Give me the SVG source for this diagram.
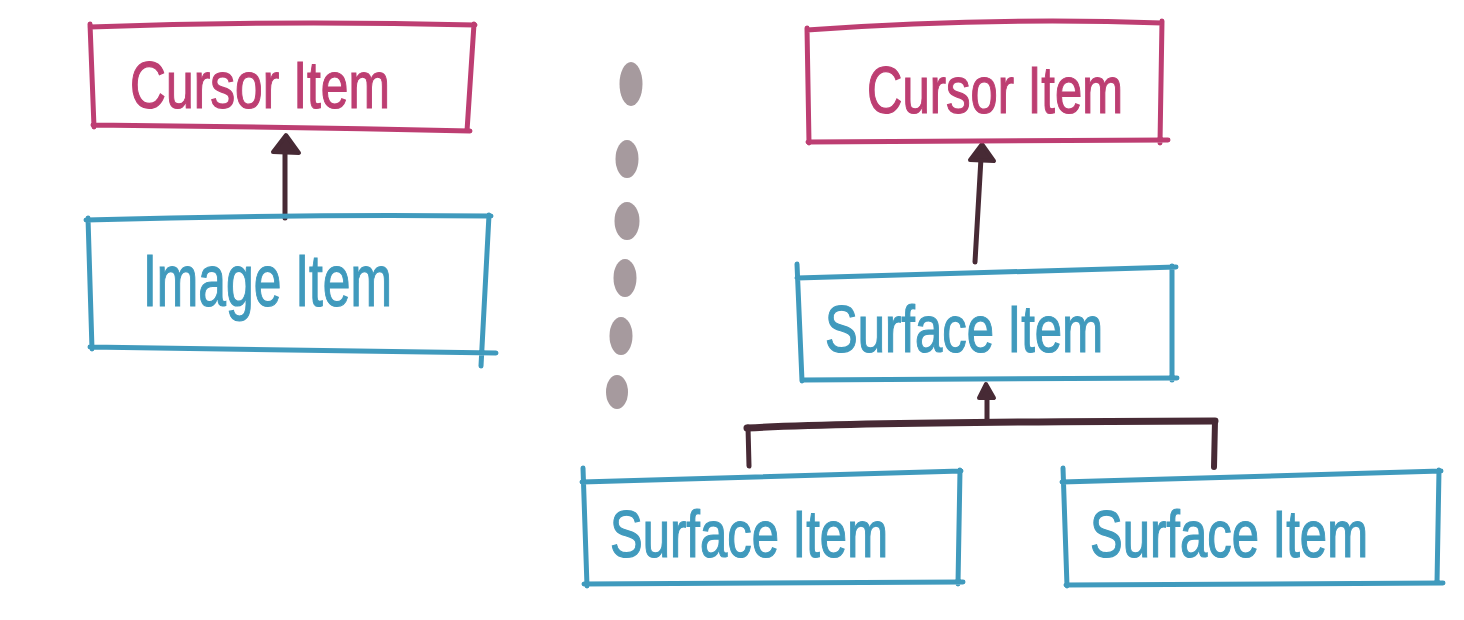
<svg xmlns="http://www.w3.org/2000/svg" width="1464" height="620" viewBox="0 0 1464 620">
<style>
.pink{fill:none;stroke:#bd3e72;stroke-width:5;stroke-linecap:round;stroke-linejoin:round}
.blue{fill:none;stroke:#409abd;stroke-width:5;stroke-linecap:round;stroke-linejoin:round}
.conn{fill:none;stroke:#472a35;stroke-width:5;stroke-linecap:round;stroke-linejoin:round}
.head{fill:#472a35;stroke:#472a35;stroke-width:4;stroke-linejoin:round}
.dot{fill:#a69a9e}
.tp{fill:#bd3e72;font-family:"Liberation Sans","DejaVu Sans",sans-serif;font-size:66px;stroke:#bd3e72;stroke-width:1.2}
.tb{fill:#409abd;font-family:"Liberation Sans","DejaVu Sans",sans-serif;font-size:66px;stroke:#409abd;stroke-width:1.2}
</style>
<rect width="1464" height="620" fill="#ffffff"/>
<g id="dots">
<ellipse class="dot" cx="631" cy="84" rx="11.5" ry="22"/>
<ellipse class="dot" cx="627" cy="159" rx="11.5" ry="19"/>
<ellipse class="dot" cx="627" cy="221" rx="12.5" ry="19"/>
<ellipse class="dot" cx="625" cy="278" rx="11.5" ry="19"/>
<ellipse class="dot" cx="621" cy="336" rx="11.5" ry="19"/>
<ellipse class="dot" cx="617" cy="392" rx="11" ry="17"/>
</g>
<g id="connectors">
<path class="conn" d="M285 218 L285 150"/>
<path class="head" d="M286 135 L299 153 L273 152 Z"/>
<path class="conn" d="M975 262 L981 158"/>
<path class="head" d="M982 144 L994 161 L970 160 Z"/>
<path class="conn" d="M987 422 L987 396"/>
<path class="head" d="M986 384 L994 398 L979 398 Z"/>
<path class="conn" style="stroke-width:7" d="M747 428 Q 860 422 1215 421"/>
<path class="conn" d="M748 427 L749 466"/>
<path class="conn" style="stroke-width:6" d="M1215 421 L1214 467"/>
</g>
<g id="cursor-left">
<path class="pink" d="M90 27 Q 280 20 475 25 M474 24 L467 131 M93 125 Q 280 127 470 131 M90 24 L94 127"/>
<text class="tp" x="130" y="108" textLength="260" lengthAdjust="spacingAndGlyphs">Cursor Item</text>
</g>
<g id="image-item">
<path class="blue" d="M86 220 Q 290 214 491 216 M489 215 L481 366 M90 347 Q 290 350 496 353 M88 218 L92 349"/>
<text class="tb" x="143" y="306" style="font-size:74px" textLength="249" lengthAdjust="spacingAndGlyphs">Image Item</text>
</g>
<g id="cursor-right">
<path class="pink" d="M807 30 Q 990 17 1162 23 M1162 21 L1160 143 M808 142 L1168 140 M807 28 L809 143"/>
<text class="tp" x="867" y="113" textLength="256" lengthAdjust="spacingAndGlyphs">Cursor Item</text>
</g>
<g id="surface-top">
<path class="blue" d="M797 278 L1176 267 M1172 266 L1172 380 M802 380 L1177 378 M797 264 L802 381"/>
<text class="tb" x="825" y="352" textLength="278" lengthAdjust="spacingAndGlyphs">Surface Item</text>
</g>
<g id="surface-left">
<path class="blue" d="M582 482 L961 471 M960 470 L958 584 M584 584 L963 582 M583 468 L587 586"/>
<text class="tb" x="610" y="557" textLength="278" lengthAdjust="spacingAndGlyphs">Surface Item</text>
</g>
<g id="surface-right">
<path class="blue" d="M1062 482 L1441 471 M1439 470 L1437 583 M1066 585 L1443 583 M1063 468 L1067 586"/>
<text class="tb" x="1090" y="557" textLength="278" lengthAdjust="spacingAndGlyphs">Surface Item</text>
</g>
</svg>
